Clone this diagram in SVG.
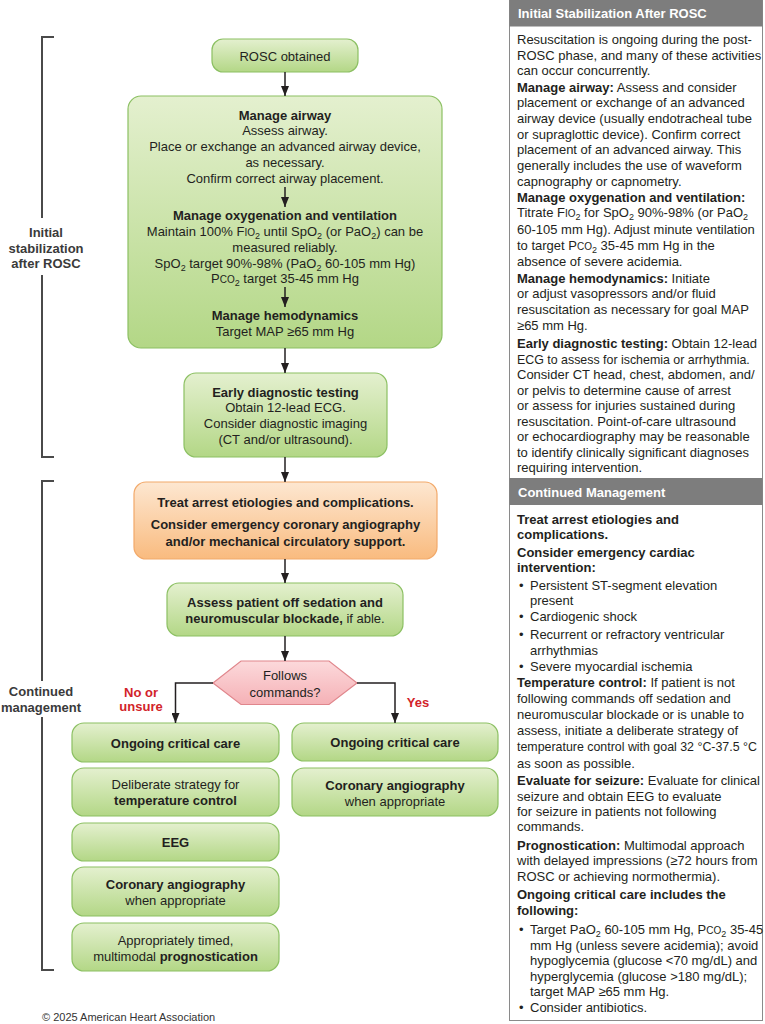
<svg xmlns="http://www.w3.org/2000/svg" width="765" height="1024" viewBox="0 0 765 1024">
<style>
text{font-family:"Liberation Sans",Arial,sans-serif;font-size:13px;fill:#231f20}
.c{text-anchor:middle}
.b{font-weight:bold}
.r{font-weight:normal}
.red{fill:#d2232a;font-weight:bold}
.side{fill:#3a3a3a;font-weight:bold;text-anchor:middle}
.hd{fill:#ffffff;font-weight:bold}
.g{fill:url(#gg);stroke:#8cc063;stroke-width:1.2}
.o{fill:url(#og);stroke:#f2a96a;stroke-width:1.2}
.p{fill:url(#pg);stroke:#e0868c;stroke-width:1.2}
.ln{fill:none;stroke:#231f20;stroke-width:1.5}
.br{fill:none;stroke:#4a4a4a;stroke-width:2}
.sm{font-size:10px}
.sub{font-size:9px}
.tight{font-size:12.4px}
</style>
<defs>
<linearGradient id="gg" x1="0" y1="0" x2="0" y2="1"><stop offset="0" stop-color="#e4f0cf"/><stop offset="1" stop-color="#b3d786"/></linearGradient>
<linearGradient id="og" x1="0" y1="0" x2="0" y2="1"><stop offset="0" stop-color="#fde7d1"/><stop offset="1" stop-color="#f9bb7f"/></linearGradient>
<linearGradient id="pg" x1="0" y1="0" x2="0" y2="1"><stop offset="0" stop-color="#fcd9db"/><stop offset="1" stop-color="#f5b1b6"/></linearGradient>
<marker id="ah" viewBox="0 0 10 8" refX="10" refY="4" markerWidth="10" markerHeight="8" markerUnits="userSpaceOnUse" orient="auto"><path d="M0,0 L10,4 L0,8 z" fill="#231f20"/></marker>
</defs>

<g id="bracket-initial">
<path class="br" d="M54,37 H42 V218 M42,275 V457 H54"/>
<text class="side" x="46" y="237">Initial</text>
<text class="side" x="46" y="253">stabilization</text>
<text class="side" x="46" y="268">after ROSC</text>
</g>
<g id="bracket-continued">
<path class="br" d="M54,481 H42 V681 M42,717 V970 H54"/>
<text class="side" x="41" y="695.5">Continued</text>
<text class="side" x="41" y="711.5">management</text>
</g>

<g id="rosc">
<rect class="g" x="212" y="39" width="146" height="33" rx="11"/>
<text class="c" x="285" y="60.5">ROSC obtained</text>
</g>

<g id="stabilize">
<rect class="g" x="128" y="96" width="314" height="252" rx="13"/>
<text class="c b" x="285" y="119.5">Manage airway</text>
<text class="c" x="285" y="134.5">Assess airway.</text>
<text class="c" x="285" y="150.5">Place or exchange an advanced airway device,</text>
<text class="c" x="285" y="166.5">as necessary.</text>
<text class="c" x="285" y="182.5">Confirm correct airway placement.</text>
<text class="c b" x="285" y="220">Manage oxygenation and ventilation</text>
<text class="c" x="285" y="236">Maintain 100% F<tspan class="sm">IO</tspan><tspan class="sub" dy="3">2</tspan><tspan dy="-3"> until SpO</tspan><tspan class="sub" dy="3">2</tspan><tspan dy="-3"> (or PaO</tspan><tspan class="sub" dy="3">2</tspan><tspan dy="-3">) can be</tspan></text>
<text class="c" x="285" y="251.5">measured reliably.</text>
<text class="c" x="285" y="267.5">SpO<tspan class="sub" dy="3">2</tspan><tspan dy="-3"> target 90%-98% (PaO</tspan><tspan class="sub" dy="3">2</tspan><tspan dy="-3"> 60-105 mm Hg)</tspan></text>
<text class="c" x="285" y="282.5">P<tspan class="sm">CO</tspan><tspan class="sub" dy="3">2</tspan><tspan dy="-3"> target 35-45 mm Hg</tspan></text>
<text class="c b" x="285" y="320">Manage hemodynamics</text>
<text class="c" x="285" y="335.5">Target MAP ≥65 mm Hg</text>
</g>

<g id="diagnostic">
<rect class="g" x="184" y="373" width="203" height="84" rx="12"/>
<text class="c b" x="285.5" y="396.5">Early diagnostic testing</text>
<text class="c" x="285.5" y="411.5">Obtain 12-lead ECG.</text>
<text class="c" x="285.5" y="427.5">Consider diagnostic imaging</text>
<text class="c" x="285.5" y="443.5">(CT and/or ultrasound).</text>
</g>

<g id="treat">
<rect class="o" x="134" y="482" width="303" height="77" rx="12"/>
<text class="c b" x="285.5" y="506.5">Treat arrest etiologies and complications.</text>
<text class="c b" x="285.5" y="528.5">Consider emergency coronary angiography</text>
<text class="c b" x="285.5" y="545.5">and/or mechanical circulatory support.</text>
</g>

<g id="assess">
<rect class="g" x="167" y="583" width="236" height="53" rx="12"/>
<text class="c b" x="285" y="606.5">Assess patient off sedation and</text>
<text class="c b" x="285" y="623">neuromuscular blockade,<tspan class="r"> if able.</tspan></text>
</g>

<g id="decision">
<polygon class="p" points="213,683 241,661 329,661 357,683 329,704.5 241,704.5"/>
<text class="c" x="285" y="679.5">Follows</text>
<text class="c" x="285" y="696.5">commands?</text>
</g>

<g id="no-care">
<rect class="g" x="72" y="723" width="207" height="39" rx="12"/>
<text class="c b" x="175.5" y="747.5">Ongoing critical care</text>
</g>
<g id="no-temp">
<rect class="g" x="72" y="768" width="207" height="48" rx="12"/>
<text class="c" x="175.5" y="788.5">Deliberate strategy for</text>
<text class="c b" x="175.5" y="804.5">temperature control</text>
</g>
<g id="no-eeg">
<rect class="g" x="72" y="823" width="207" height="38" rx="12"/>
<text class="c b" x="175.5" y="846.5">EEG</text>
</g>
<g id="no-angio">
<rect class="g" x="72" y="867" width="207" height="49" rx="12"/>
<text class="c b" x="175.5" y="888.5">Coronary angiography</text>
<text class="c" x="175.5" y="904.5">when appropriate</text>
</g>
<g id="no-prog">
<rect class="g" x="72" y="923" width="207" height="48" rx="12"/>
<text class="c" x="175.5" y="944.5">Appropriately timed,</text>
<text class="c" x="175.5" y="960.5">multimodal <tspan class="b">prognostication</tspan></text>
</g>

<g id="yes-care">
<rect class="g" x="292" y="723" width="206" height="38" rx="12"/>
<text class="c b" x="395" y="746.5">Ongoing critical care</text>
</g>
<g id="yes-angio">
<rect class="g" x="292" y="768" width="206" height="48" rx="12"/>
<text class="c b" x="395" y="789.5">Coronary angiography</text>
<text class="c" x="395" y="805.5">when appropriate</text>
</g>

<g id="connectors">
<path class="ln" marker-end="url(#ah)" d="M285,72 V96"/>
<path class="ln" marker-end="url(#ah)" d="M285,187 V207"/>
<path class="ln" marker-end="url(#ah)" d="M285,287 V307"/>
<path class="ln" marker-end="url(#ah)" d="M285,348 V373"/>
<path class="ln" marker-end="url(#ah)" d="M285,457 V482"/>
<path class="ln" marker-end="url(#ah)" d="M285,559 V583"/>
<path class="ln" marker-end="url(#ah)" d="M285,636 V661"/>
<path class="ln" marker-end="url(#ah)" d="M213,683 H175.5 V723"/>
<path class="ln" marker-end="url(#ah)" d="M357,683 H395 V723"/>
<text class="red c" x="141" y="697">No or</text>
<text class="red c" x="141" y="711">unsure</text>
<text class="red c" x="418" y="706.5">Yes</text>
</g>

<g id="side-panel">
<rect x="509.5" y="0" width="253" height="1020.5" fill="#ffffff" stroke="#8a8a8a" stroke-width="1"/>
<rect x="509.5" y="0" width="253" height="26.5" fill="#7d7d7d"/>
<text class="hd" x="518" y="18">Initial Stabilization After ROSC</text>
<text x="517" y="44">Resuscitation is ongoing during the post-</text>
<text x="517" y="59.5">ROSC phase, and many of these activities</text>
<text x="517" y="75">can occur concurrently.</text>
<text x="517" y="92"><tspan class="b">Manage airway:</tspan> Assess and consider</text>
<text x="517" y="107">placement or exchange of an advanced</text>
<text x="517" y="123">airway device (usually endotracheal tube</text>
<text x="517" y="138.5">or supraglottic device). Confirm correct</text>
<text x="517" y="154">placement of an advanced airway. This</text>
<text x="517" y="170">generally includes the use of waveform</text>
<text x="517" y="185.5">capnography or capnometry.</text>
<text x="517" y="202" class="b">Manage oxygenation and ventilation:</text>
<text x="517" y="217">Titrate F<tspan class="sm">IO</tspan><tspan class="sub" dy="3">2</tspan><tspan dy="-3"> for SpO</tspan><tspan class="sub" dy="3">2</tspan><tspan dy="-3"> 90%-98% (or PaO</tspan><tspan class="sub" dy="3">2</tspan></text>
<text x="517" y="233.5">60-105 mm Hg). Adjust minute ventilation</text>
<text x="517" y="249.5">to target P<tspan class="sm">CO</tspan><tspan class="sub" dy="3">2</tspan><tspan dy="-3"> 35-45 mm Hg in the</tspan></text>
<text x="517" y="266">absence of severe acidemia.</text>
<text x="517" y="282.5"><tspan class="b">Manage hemodynamics:</tspan> Initiate</text>
<text x="517" y="298">or adjust vasopressors and/or fluid</text>
<text x="517" y="313.5">resuscitation as necessary for goal MAP</text>
<text x="517" y="329.5">≥65 mm Hg.</text>
<text x="517" y="347.5"><tspan class="b">Early diagnostic testing:</tspan> Obtain 12-lead</text>
<text x="517" y="363.5" class="tight">ECG to assess for ischemia or arrhythmia.</text>
<text x="517" y="379">Consider CT head, chest, abdomen, and/</text>
<text x="517" y="394.5">or pelvis to determine cause of arrest</text>
<text x="517" y="410">or assess for injuries sustained during</text>
<text x="517" y="425.5">resuscitation. Point-of-care ultrasound</text>
<text x="517" y="441">or echocardiography may be reasonable</text>
<text x="517" y="456.5">to identify clinically significant diagnoses</text>
<text x="517" y="472">requiring intervention.</text>

<rect x="509.5" y="478" width="253" height="27" fill="#7d7d7d"/>
<text class="hd" x="518" y="497">Continued Management</text>
<text x="517" y="524" class="b">Treat arrest etiologies and</text>
<text x="517" y="538.5" class="b">complications.</text>
<text x="517" y="557" class="b">Consider emergency cardiac</text>
<text x="517" y="572" class="b">intervention:</text>
<text x="519" y="589.5">•<tspan x="530">Persistent ST-segment elevation</tspan></text>
<text x="530" y="605.2">present</text>
<text x="519" y="621.2">•<tspan x="530">Cardiogenic shock</tspan></text>
<text x="519" y="638.5">•<tspan x="530">Recurrent or refractory ventricular</tspan></text>
<text x="530" y="654.5">arrhythmias</text>
<text x="519" y="670.5">•<tspan x="530">Severe myocardial ischemia</tspan></text>
<text x="517" y="687"><tspan class="b">Temperature control:</tspan> If patient is not</text>
<text x="517" y="703">following commands off sedation and</text>
<text x="517" y="718.5">neuromuscular blockade or is unable to</text>
<text x="517" y="734.5">assess, initiate a deliberate strategy of</text>
<text x="517" y="751" class="tight">temperature control with goal 32 °C-37.5 °C</text>
<text x="517" y="768">as soon as possible.</text>
<text x="517" y="784.5"><tspan class="b">Evaluate for seizure:</tspan> Evaluate for clinical</text>
<text x="517" y="800.5">seizure and obtain EEG to evaluate</text>
<text x="517" y="815.5">for seizure in patients not following</text>
<text x="517" y="831.2">commands.</text>
<text x="517" y="849.5"><tspan class="b">Prognostication:</tspan> Multimodal approach</text>
<text x="517" y="864.5">with delayed impressions (≥72 hours from</text>
<text x="517" y="880.5">ROSC or achieving normothermia).</text>
<text x="517" y="899" class="b">Ongoing critical care includes the</text>
<text x="517" y="914.5" class="b">following:</text>
<text x="519" y="934">•<tspan x="530">Target PaO</tspan><tspan class="sub" dy="3">2</tspan><tspan dy="-3"> 60-105 mm Hg, P</tspan><tspan class="sm">CO</tspan><tspan class="sub" dy="3">2</tspan><tspan dy="-3"> 35-45</tspan></text>
<text x="530" y="949.5">mm Hg (unless severe acidemia); avoid</text>
<text x="530" y="965.2">hypoglycemia (glucose &lt;70 mg/dL) and</text>
<text x="530" y="980.5">hyperglycemia (glucose &gt;180 mg/dL);</text>
<text x="530" y="996.2">target MAP ≥65 mm Hg.</text>
<text x="519" y="1012.2">•<tspan x="530">Consider antibiotics.</tspan></text>
</g>

<text x="42" y="1021" style="font-size:11px;fill:#333333">© 2025 American Heart Association</text>
</svg>
